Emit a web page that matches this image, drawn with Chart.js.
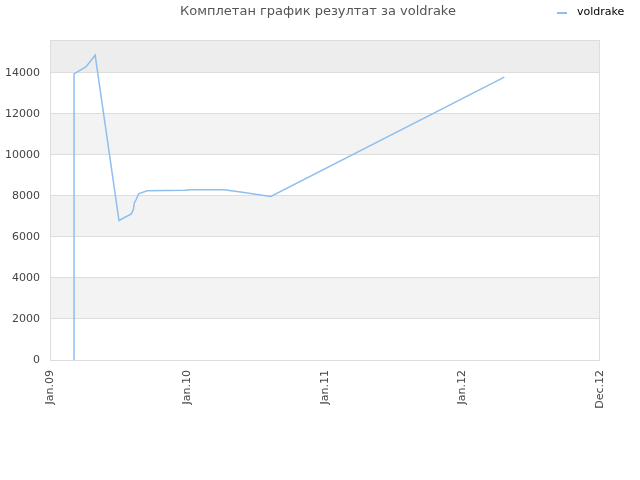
<!DOCTYPE html>
<html>
<head>
<meta charset="utf-8">
<script src="https://cdn.jsdelivr.net/npm/chart.js@4"></script>
<style>
    html, body { margin: 0; padding: 0; background: #fff; }
    #wrap { width: 640px; height: 480px; }
</style>
</head>
<body>
<div id="wrap"><canvas id="resultChart" width="640" height="480"></canvas></div>
<script>
// months since Jan 2009
const monthPoints = [2.1, 2.1, 3.15, 3.94, 6.02, 7.09, 7.27, 7.36, 7.5, 7.73, 8.47, 11.76, 12.2, 15.18, 16.64, 19.27, 39.65];
const scoreValues = [0, 13950, 14300, 14860, 6800, 7120, 7320, 7660, 7800, 8100, 8245, 8280, 8300, 8305, 8195, 7970, 13790];
const xTickLabels = ['Jan.09', 'Jan.10', 'Jan.11', 'Jan.12', 'Dec.12'];
const xTickMonths = [0, 12, 24, 36, 48];
const yTickValues = [0, 2000, 4000, 6000, 8000, 10000, 12000, 14000];
const seriesName = 'voldrake';
const chartTitle = 'Комплетан график резултат за voldrake';

const lineColor = '#8fbfee';
const font = '"DejaVu Sans", sans-serif';

// alternating bands behind the plot + title and legend on top row
const decorPlugin = {
    id: 'decor',
    beforeDraw(chart) {
        const { ctx, chartArea, scales } = chart;
        const y = scales.y;
        ctx.save();
        for (let v = 0; v < y.max; v += 2000) {
            const top = y.getPixelForValue(Math.min(v + 2000, y.max));
            const bottom = y.getPixelForValue(v);
            if ((v / 2000) % 2 === 1) {
                ctx.fillStyle = v >= 14000 ? '#ededed' : '#f3f3f3';
                ctx.fillRect(chartArea.left, top, chartArea.right - chartArea.left, bottom - top);
            }
        }
        ctx.restore();
    },
    afterDraw(chart) {
        const { ctx, chartArea } = chart;
        ctx.save();
        ctx.strokeStyle = '#dddddd';
        ctx.lineWidth = 1;
        ctx.strokeRect(chartArea.left + 0.5, chartArea.top + 0.5, chartArea.right - chartArea.left - 1, chartArea.bottom - chartArea.top);

        ctx.fillStyle = '#555';
        ctx.font = '13px ' + font;
        ctx.textAlign = 'center';
        ctx.textBaseline = 'middle';
        ctx.fillText(chartTitle, 318, 12);

        ctx.strokeStyle = lineColor;
        ctx.lineWidth = 2;
        ctx.beginPath();
        ctx.moveTo(557, 13);
        ctx.lineTo(567, 13);
        ctx.stroke();
        ctx.fillStyle = '#000';
        ctx.font = '11px ' + font;
        ctx.textAlign = 'left';
        ctx.fillText(seriesName, 577, 12);
        ctx.restore();
    }
};

const chart = new Chart(document.getElementById('resultChart'), {
    type: 'line',
    data: {
        datasets: [{
            label: seriesName,
            data: monthPoints.map((m, i) => ({ x: m, y: scoreValues[i] })),
            borderColor: lineColor,
            borderWidth: 1.5,
            pointRadius: 0,
            tension: 0,
            fill: false
        }]
    },
    options: {
        responsive: false,
        animation: false,
        layout: { padding: { top: 40, right: 40, left: 0, bottom: 0 } },
        plugins: {
            legend: { display: false },
            title: { display: false },
            tooltip: { enabled: false }
        },
        scales: {
            x: {
                type: 'linear',
                min: 0,
                max: 48,
                afterBuildTicks: axis => { axis.ticks = xTickMonths.map(v => ({ value: v })); },
                afterFit: axis => { axis.height = 120; },
                grid: { display: false, drawTicks: false },
                border: { display: false },
                ticks: {
                    minRotation: 90,
                    maxRotation: 90,
                    padding: 10,
                    color: '#444',
                    font: { family: font, size: 11 },
                    callback: v => xTickLabels[xTickMonths.indexOf(v)]
                }
            },
            y: {
                min: 0,
                max: 15600,
                afterBuildTicks: axis => { axis.ticks = yTickValues.map(v => ({ value: v })); },
                afterFit: axis => { axis.width = 50; },
                grid: { color: '#dddddd', drawTicks: false },
                border: { display: false },
                ticks: {
                    padding: 10,
                    color: '#444',
                    font: { family: font, size: 11 },
                    callback: v => String(v)
                }
            }
        }
    },
    plugins: [decorPlugin]
});
</script>
</body>
</html>
